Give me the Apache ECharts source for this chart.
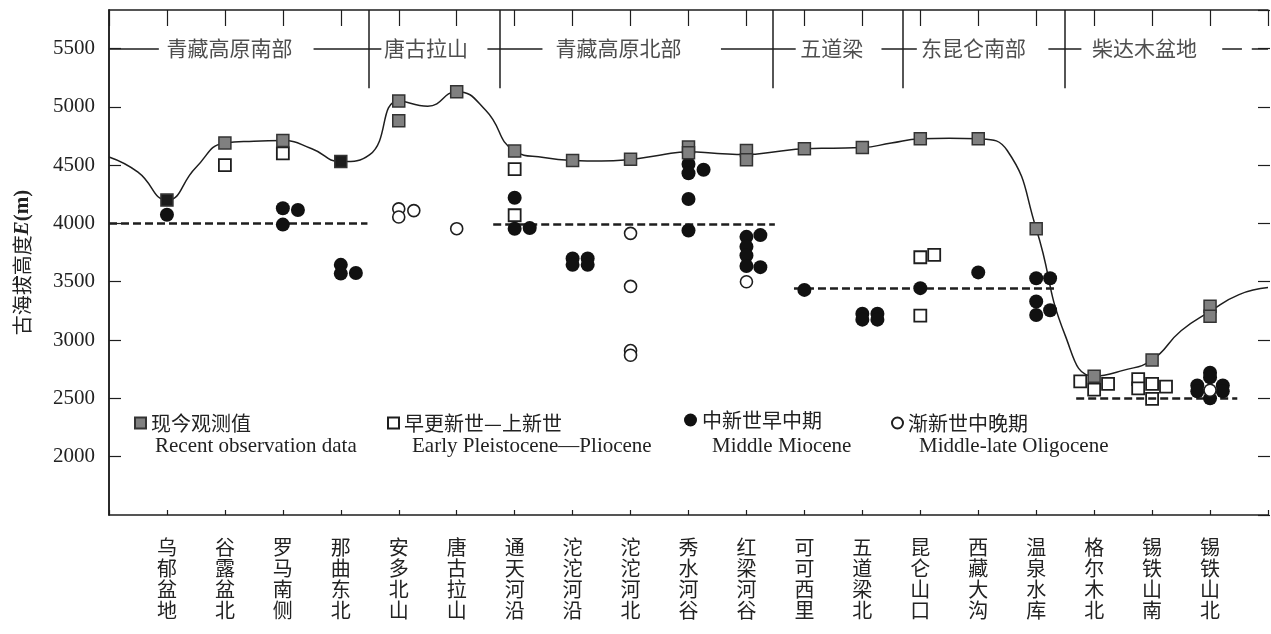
<!DOCTYPE html>
<html><head><meta charset="utf-8">
<script src="https://cdn.jsdelivr.net/npm/echarts@6/dist/echarts.min.js"></script>
<style>html,body{margin:0;padding:0;background:#fff}#c{width:1271px;height:634px}</style>
</head><body><div id="c"></div>
<script>
// ---- categories (sites along the profile) ----
const categories = ['乌郁盆地','谷露盆北','罗马南侧','那曲东北','安多北山','唐古拉山','通天河沿','沱沱河沿','沱沱河北','秀水河谷','红梁河谷','可可西里','五道梁北','昆仑山口','西藏大沟','温泉水库','格尔木北','锡铁山南','锡铁山北'];
const yTickLabels = [2000,2500,3000,3500,4000,4500,5000,5500];

// ---- series: [site position, elevation m] ----
const recentObs = [[1,4200],[2,4690],[3,4710],[4,4530],[5,5050],[5,4880],[6,5130],[7,4620],[8,4540],[9,4550],[10,4655],[10,4605],[11,4625],[11,4545],[12,4640],[13,4650],[14,4725],[15,4725],[16,3955],[17,2690],[18,2830],[19,3290],[19,3205]];
const recentDarkIdx = [0,3];
const earlyPleistocene = [[2,4500],[3,4600],[7,4465],[7,4070],[14,3710],[14.24,3730],[14,3210],[16.76,2645],[17,2575],[17.24,2625],[17.76,2665],[17.76,2585],[18,2625],[18.24,2600],[18,2495]];
const middleMiocene = [[1,4075],[3,4130],[3.26,4115],[3,3990],[4,3645],[4,3570],[4.26,3575],[7,4220],[7,3955],[7.26,3960],[8,3700],[8.26,3700],[8,3645],[8.26,3645],[10,4510],[10,4430],[10.26,4460],[10,4210],[10,3940],[11,3885],[11.24,3900],[11,3800],[11,3725],[11,3635],[11.24,3625],[12,3430],[13,3225],[13.26,3225],[13,3175],[13.26,3175],[14,3445],[15,3580],[16,3530],[16.24,3530],[16,3330],[16,3215],[16.24,3255],[19,2720],[19,2680],[18.78,2610],[18.78,2560],[19.22,2610],[19.22,2560],[19,2500]];
const oligocene = [[5,4125],[5,4055],[5.26,4110],[6,3955],[9,3915],[9,3460],[9,2910],[9,2870],[11,3500],[19,2570]];

// ---- modern topographic profile ----
const profileX = [0,0.5,1,1.5,2,2.5,3,3.5,4,4.5,5,5.5,6,6.5,7,7.5,8,8.5,9,9.5,10,10.5,11,11.5,12,12.5,13,13.5,14,14.5,15,15.5,16,16.5,17,17.5,18,18.5,19,19.5,20];
const profileY = [4570,4440,4200,4480,4690,4705,4710,4640,4530,4590,5050,5005,5130,4970,4620,4565,4540,4535,4550,4585,4615,4600,4590,4615,4640,4645,4650,4690,4725,4730,4725,4625,3955,3040,2690,2740,2830,3080,3245,3390,3450];

// ---- mean paleo-elevation dashed lines: [xStart, xEnd, elevation] ----
const meanLines = [[0,4.46,4000],[6.63,11.49,3990],[11.82,16.33,3445],[16.69,19.47,2500]];

// ---- region header ----
const regionNames = ['青藏高原南部','唐古拉山','青藏高原北部','五道梁','东昆仑南部','柴达木盆地'];
const regionLabelX = [2.08,5.47,8.79,12.47,14.92,17.87];
const regionSeparators = [4.48,6.75,11.46,13.70,16.49];
const headerSegments = [[0,0.86],[3.53,4.70],[6.53,7.48],[10.56,11.85],[13.33,13.94],[16.21,16.78],[19.21,19.55],[19.72,20]];
const headerLevel = 5500;

const X_MIN = 0, X_MAX = 20;
const Y_MIN = 1500, Y_MAX = 5830;
const INK = '#1e1e1e';
const SERIF = '"Liberation Serif", "Noto Sans CJK SC", serif';
const CJK = '"Noto Sans CJK SC", sans-serif';
const GRID = {left:109, right:1, top:10, bottom:119};
const W = 1271, H = 634;
const GW = W - GRID.left - GRID.right, GH = H - GRID.top - GRID.bottom;
const LEFT_TICK_PX = 12;
const leftTickSpan = LEFT_TICK_PX * (X_MAX - X_MIN) / GW;

const chart = echarts.init(document.getElementById('c'), null, {renderer:'canvas'});

const markLineData = [];
regionSeparators.forEach(x => markLineData.push([{coord:[x, Y_MAX]},{coord:[x, 5160]}]));
headerSegments.forEach(s => markLineData.push([{coord:[s[0], headerLevel]},{coord:[s[1], headerLevel]}]));
meanLines.forEach(m => markLineData.push([{coord:[m[0], m[2]], lineStyle:{type:[8,4], width:2.6, color:INK}},{coord:[m[1], m[2]]}]));
// inward ticks of the left frame, at the labelled elevations
yTickLabels.forEach(v => markLineData.push([{coord:[X_MIN, v], lineStyle:{width:1.2, color:INK, type:'solid'}},{coord:[X_MIN + leftTickSpan, v]}]));

const legendBase = {padding:0, itemGap:0, orient:'horizontal', textStyle:{fontSize:20, fontFamily:CJK, color:'#222'}};
const axisLine = {show:true, lineStyle:{color:INK, width:1.5}};
const noLine = {show:false};
const tickStyle = {color:INK, width:1.2};

const option = {
  animation:false,
  backgroundColor:'#fff',
  grid:GRID,
  legend:[
    Object.assign({}, legendBase, {data:['现今观测值'], left:134, top:413, itemWidth:11, itemHeight:11}),
    Object.assign({}, legendBase, {data:['早更新世—上新世'], left:387, top:413, itemWidth:11, itemHeight:11}),
    Object.assign({}, legendBase, {data:['中新世早中期'], left:684, top:410, itemWidth:13, itemHeight:13}),
    Object.assign({}, legendBase, {data:['渐新世中晚期'], left:891, top:413, itemWidth:11, itemHeight:11})
  ],
  graphic:[
    {type:'text', left:155, top:436, style:{text:'Recent observation data', font:'21px "Liberation Serif"', fill:'#222'}},
    {type:'text', left:412, top:436, style:{text:'Early Pleistocene—Pliocene', font:'21px "Liberation Serif"', fill:'#222'}},
    {type:'text', left:712, top:436, style:{text:'Middle Miocene', font:'21px "Liberation Serif"', fill:'#222'}},
    {type:'text', left:919, top:436, style:{text:'Middle-late Oligocene', font:'21px "Liberation Serif"', fill:'#222'}}
  ],
  xAxis:[
    {type:'value', position:'bottom', min:X_MIN, max:X_MAX, interval:1,
     axisLine:axisLine, axisTick:{show:false}, splitLine:{show:false},
     axisLabel:{margin:22, fontSize:20, lineHeight:21, fontFamily:CJK, color:'#222',
       formatter:function(v){ const i=Math.round(v); if(Math.abs(v-i)>1e-6||i<1||i>categories.length) return ''; return categories[i-1].split('').join('\n'); }}},
    {type:'value', position:'top', min:X_MIN, max:X_MAX, interval:1,
     axisLine:axisLine, axisTick:{show:true, inside:true, length:16, lineStyle:tickStyle},
     splitLine:{show:false}, axisLabel:{show:false}},
    {type:'value', position:'bottom', min:X_MIN, max:X_MAX, interval:1,
     axisLine:noLine, axisTick:{show:true, inside:true, length:5, lineStyle:tickStyle},
     splitLine:{show:false}, axisLabel:{show:false}}
  ],
  yAxis:[
    {type:'value', position:'left', min:Y_MIN, max:Y_MAX, interval:500,
     axisLine:axisLine, axisTick:{show:false}, splitLine:{show:false},
     axisLabel:{margin:14, fontSize:21, fontFamily:SERIF, color:'#222',
       formatter:function(v){ return yTickLabels.indexOf(v)>=0 ? String(v) : ''; }},
     name:'古海拔高度{e|E}{m|(m)}', nameLocation:'middle', nameGap:76,
     nameTextStyle:{fontSize:20, fontFamily:CJK, color:'#222',
       rich:{e:{fontSize:21, fontWeight:'bold', fontStyle:'italic', fontFamily:SERIF, color:'#222'},
             m:{fontSize:21, fontWeight:'bold', fontFamily:SERIF, color:'#222'}}}},
    {type:'value', position:'right', min:Y_MIN, max:Y_MAX, interval:500,
     axisLine:axisLine, axisTick:{show:false}, splitLine:{show:false}, axisLabel:{show:false}},
    // ticks of the right frame, pointing left into the plot
    {type:'value', position:'left', offset:-GW, min:Y_MIN, max:Y_MAX, interval:500,
     axisLine:noLine, axisTick:{show:true, inside:false, length:12, lineStyle:tickStyle},
     splitLine:{show:false}, axisLabel:{show:false}}
  ],
  series:[
    {name:'profile', type:'line', xAxisIndex:0, yAxisIndex:0, data:profileX.map((x,i)=>[x, profileY[i]]),
     smooth:0.5, showSymbol:false, symbol:'none', lineStyle:{color:INK, width:1.5}, z:2, silent:true,
     markLine:{silent:true, symbol:['none','none'], label:{show:false}, lineStyle:{color:INK, width:1.5, type:'solid'}, data:markLineData}},
    {name:'header', type:'scatter', symbolSize:0, z:3, silent:true,
     data:regionNames.map((n,i)=>({name:n, value:[regionLabelX[i], headerLevel]})),
     label:{show:true, position:'inside', formatter:'{b}', fontSize:21, fontFamily:CJK, color:'#222'}},
    {name:'早更新世—上新世', type:'scatter', symbol:'rect', symbolSize:12, z:4, data:earlyPleistocene,
     itemStyle:{color:'#fff', borderColor:INK, borderWidth:1.8, opacity:1}},
    {name:'中新世早中期', type:'scatter', symbol:'circle', symbolSize:14, z:5, data:middleMiocene,
     itemStyle:{color:'#111', borderColor:'#111', borderWidth:0, opacity:1}},
    {name:'渐新世中晚期', type:'scatter', symbol:'circle', symbolSize:12, z:6, data:oligocene,
     itemStyle:{color:'#fff', borderColor:INK, borderWidth:1.6, opacity:1}},
    {name:'现今观测值', type:'scatter', symbol:'rect', symbolSize:12, z:7,
     data:recentObs.map((p,i)=> recentDarkIdx.indexOf(i)>=0 ? {value:p, itemStyle:{color:'#1c1c1c'}} : p),
     itemStyle:{color:'#808080', borderColor:'#333', borderWidth:1.5, opacity:1}}
  ]
};
chart.setOption(option);
</script></body></html>
